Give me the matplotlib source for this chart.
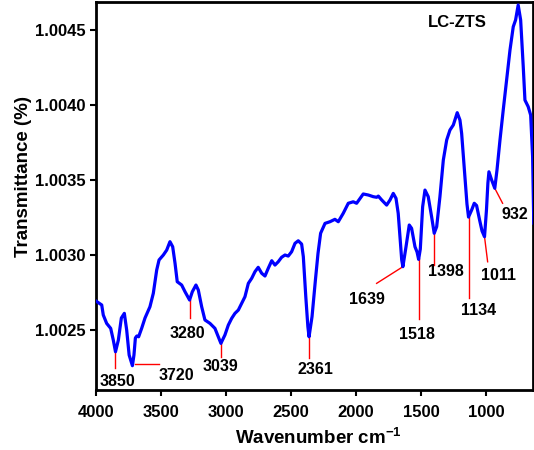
import matplotlib
matplotlib.use("Agg")
import matplotlib.pyplot as plt
import numpy as np

plt.rcParams['font.family'] = ['Liberation Sans', 'DejaVu Sans']
plt.rcParams['font.weight'] = 'bold'
plt.rcParams['mathtext.fontset'] = 'custom'
plt.rcParams['mathtext.rm'] = 'Liberation Sans:bold'
plt.rcParams['mathtext.bf'] = 'Liberation Sans:bold'
plt.rcParams['mathtext.default'] = 'bf'

# FTIR spectrum of LC-ZTS
wavenumber = [
    4000, 3956, 3944, 3918, 3887, 3867, 3850, 3828, 3805, 3782, 3764, 3745,
    3720, 3708, 3697, 3686, 3672, 3648, 3623, 3585, 3559, 3533, 3515, 3482,
    3456, 3431, 3410, 3392, 3375, 3341, 3315, 3280, 3259, 3231, 3213, 3187,
    3162, 3123, 3085, 3059, 3039, 3008, 2982, 2956, 2931, 2905, 2879, 2854,
    2828, 2802, 2777, 2752, 2725, 2700, 2675, 2648, 2623, 2598, 2572, 2546,
    2521, 2495, 2469, 2444, 2418, 2405, 2386, 2370, 2361, 2338, 2312, 2292,
    2272, 2238, 2200, 2162, 2136, 2098, 2059, 2021, 1995, 1944, 1905, 1867,
    1841, 1828, 1802, 1764, 1738, 1713, 1692, 1675, 1660, 1648, 1639, 1615,
    1590, 1572, 1546, 1530, 1518, 1505, 1487, 1469, 1444, 1418, 1398, 1379,
    1354, 1328, 1302, 1277, 1251, 1221, 1200, 1187, 1162, 1146, 1134, 1110,
    1090, 1072, 1048, 1030, 1011, 996, 985, 977, 956, 932, 915, 892, 867,
    841, 815, 790, 772, 752, 733, 713, 700, 675, 656, 641, 632,
]
transmittance = [
    1.002693, 1.002667, 1.002600, 1.002544, 1.002511, 1.002433, 1.002355,
    1.002433, 1.002580, 1.002611, 1.002500, 1.002333, 1.002262, 1.002333,
    1.002447, 1.002460, 1.002455, 1.002513, 1.002580, 1.002655, 1.002745,
    1.002900, 1.002967, 1.003000, 1.003033, 1.003089, 1.003055, 1.002945,
    1.002822, 1.002800, 1.002755, 1.002700, 1.002755, 1.002800, 1.002767,
    1.002655, 1.002567, 1.002544, 1.002511, 1.002455, 1.002411, 1.002467,
    1.002533, 1.002578, 1.002611, 1.002633, 1.002678, 1.002722, 1.002811,
    1.002845, 1.002889, 1.002918, 1.002878, 1.002860, 1.002911, 1.002962,
    1.002933, 1.002955, 1.002985, 1.003000, 1.002993, 1.003022, 1.003078,
    1.003095, 1.003073, 1.002989, 1.002722, 1.002522, 1.002455, 1.002589,
    1.002833, 1.003011, 1.003145, 1.003211, 1.003222, 1.003238, 1.003222,
    1.003278, 1.003345, 1.003355, 1.003345, 1.003407, 1.003400, 1.003389,
    1.003385, 1.003393, 1.003367, 1.003333, 1.003367, 1.003411, 1.003378,
    1.003278, 1.003100, 1.002967, 1.002922, 1.003055, 1.003200, 1.003178,
    1.003055, 1.003020, 1.002971, 1.003040, 1.003322, 1.003433, 1.003389,
    1.003255, 1.003145, 1.003189, 1.003389, 1.003633, 1.003767, 1.003833,
    1.003867, 1.003949, 1.003900, 1.003811, 1.003522, 1.003340, 1.003253,
    1.003300, 1.003345, 1.003330, 1.003230, 1.003160, 1.003122, 1.003300,
    1.003480, 1.003555, 1.003500, 1.003445, 1.003567, 1.003767, 1.003967,
    1.004167, 1.004367, 1.004522, 1.004567, 1.004667, 1.004567, 1.004255,
    1.004033, 1.003989, 1.003933, 1.003655, 1.003213,
]

# Assigned bands
peak_labels = ['3850', '3720', '3280', '3039', '2361', '1639', '1518',
               '1398', '1134', '1011', '932']
peak_positions = [3850, 3720, 3280, 3039, 2361, 1639, 1518, 1398, 1134, 1011, 932]

# Leader-line start, leader end and label anchor (data coordinates)
leader_start = [3850, 3700, 3280, 3039, 2361, 1639, 1518, 1398, 1134, 1011, 932]
leader_end = [(3850, 1.002245), (3513, 1.002275), (3280, 1.002580),
              (3039, 1.002322), (2361, 1.002313), (1841, 1.002811),
              (1518, 1.002571), (1398, 1.002933), (1134, 1.002711),
              (987, 1.002955), (872, 1.003345)]
label_anchor = [(3835, 1.002155), (3385, 1.002200), (3295, 1.002478),
                (3039, 1.002255), (2315, 1.002235), (1918, 1.002705),
                (1534, 1.002472), (1309, 1.002889), (1058, 1.002631),
                (901, 1.002863), (777, 1.003267)]

fig = plt.figure(figsize=(5.34, 4.5), dpi=100)
ax = fig.add_axes([96 / 534, 60 / 450, 437 / 534, 388 / 450])

wn = np.array(wavenumber)
tr = np.array(transmittance)
ax.plot(wn, tr, color='#0000ff', lw=2.3, solid_joinstyle='round', zorder=3)

order = np.argsort(wn)
for lab, pos, start, end, anchor in zip(peak_labels, peak_positions,
                                         leader_start, leader_end, label_anchor):
    y0 = np.interp(start, wn[order], tr[order])
    if lab == '3720':
        y0 = end[1]
    ax.plot([start, end[0]], [y0, end[1]], color='red', lw=1.0, zorder=2)
    ax.text(anchor[0], anchor[1], lab, ha='center', va='center',
            fontsize=11.5, fontweight='bold', color='black')

ax.text(1222, 1.004547, 'LC-ZTS', ha='center', va='center',
        fontsize=12, fontweight='bold')

ax.set_xlim(4000, 638)
ax.set_ylim(1.0021, 1.004687)
ax.set_xticks([4000, 3500, 3000, 2500, 2000, 1500, 1000])
ax.set_yticks([1.0025, 1.0030, 1.0035, 1.0040, 1.0045])
ax.set_yticklabels(['1.0025', '1.0030', '1.0035', '1.0040', '1.0045'])
ax.tick_params(axis='both', direction='out', length=4.5, width=1.5,
               labelsize=12, pad=3)
ax.tick_params(axis='x', pad=6)
for lbl in ax.get_xticklabels() + ax.get_yticklabels():
    lbl.set_fontweight('bold')
for sp in ax.spines.values():
    sp.set_linewidth(2)

ax.set_xlabel(r'Wavenumber cm$^{-1}$', fontsize=13.5, fontweight='bold')
ax.set_ylabel('Transmittance (%)', fontsize=13.5, fontweight='bold')
ax.xaxis.set_label_coords(0.51, -0.098)
ax.yaxis.set_label_coords(-0.147, 0.549)

fig.savefig('out.png', dpi=100)
